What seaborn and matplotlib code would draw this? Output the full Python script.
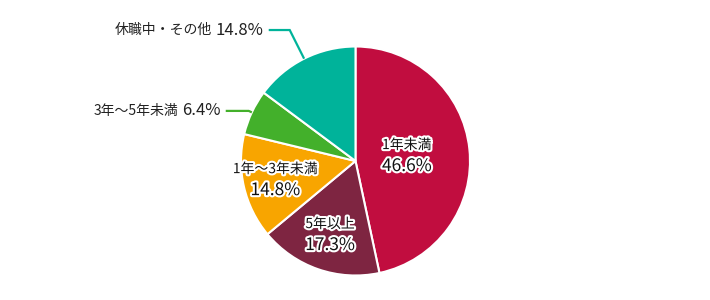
import matplotlib
matplotlib.use("Agg")
import matplotlib.pyplot as plt
import matplotlib.patheffects as pe
import numpy as np
import seaborn as sns

# ---- data ----
categories = ["1年未満", "5年以上", "1年〜3年未満", "3年〜5年未満", "休職中・その他"]
values = [46.6, 17.3, 14.8, 6.4, 14.8]
pct_labels = ["46.6%", "17.3%", "14.8%", "6.4%", "14.8%"]
inside = [True, True, True, False, False]

# ---- style ----
colors = ["#c10d3f", "#7e2541", "#f8a500", "#43b02b", "#00b39a"]
label_r = [0.45, 0.68, 0.72, None, None]      # inside label radius (fraction of R)
elbow_r = [None, None, None, 1.03, 1.28]
hline_len = [None, None, None, 23, 21]

sns.set_theme(style="white")
plt.rcParams["font.family"] = ["Noto Sans CJK JP", "DejaVu Sans"]

W, H = 710, 300
fig = plt.figure(figsize=(7.1, 3.0), dpi=100)
ax = fig.add_axes([0, 0, 1, 1])

cx, cy, R = 355.5, 300 - 161, 114.5

wedges, _ = ax.pie(values, colors=colors, startangle=90, counterclock=False,
                   center=(cx, cy), radius=R, normalize=True, frame=True,
                   wedgeprops=dict(edgecolor="white", linewidth=1.5))
ax.set_xlim(0, W)
ax.set_ylim(0, H)
ax.set_axis_off()

fig.canvas.draw()
renderer = fig.canvas.get_renderer()

stroke = [pe.withStroke(linewidth=3, foreground="white")]
for i, w in enumerate(wedges):
    mid = np.deg2rad((w.theta1 + w.theta2) / 2)
    if inside[i]:
        x = cx + label_r[i] * R * np.cos(mid)
        y = cy + label_r[i] * R * np.sin(mid)
        ax.text(x, y + 10.5, categories[i], ha="center", va="center",
                fontsize=10, color="#111111", path_effects=stroke)
        ax.text(x, y - 10.5, pct_labels[i], ha="center", va="center",
                fontsize=12.5, color="#111111", path_effects=stroke)
    else:
        ex, ey = cx + R * np.cos(mid), cy + R * np.sin(mid)
        bx, by = cx + elbow_r[i] * R * np.cos(mid), cy + elbow_r[i] * R * np.sin(mid)
        lx = bx - hline_len[i]
        ax.plot([ex, bx, lx], [ey, by, by], color=colors[i], lw=1.6,
                solid_capstyle="butt", solid_joinstyle="miter")
        t = ax.text(lx - 5, by, pct_labels[i], ha="right", va="center",
                    fontsize=12, color="#222222")
        bb = t.get_window_extent(renderer=renderer)
        x0 = ax.transData.inverted().transform((bb.x0, bb.y0))[0]
        ax.text(x0 - 4, by, categories[i], ha="right", va="center",
                fontsize=10, color="#222222")

fig.savefig("out.png", dpi=100, facecolor="white")
